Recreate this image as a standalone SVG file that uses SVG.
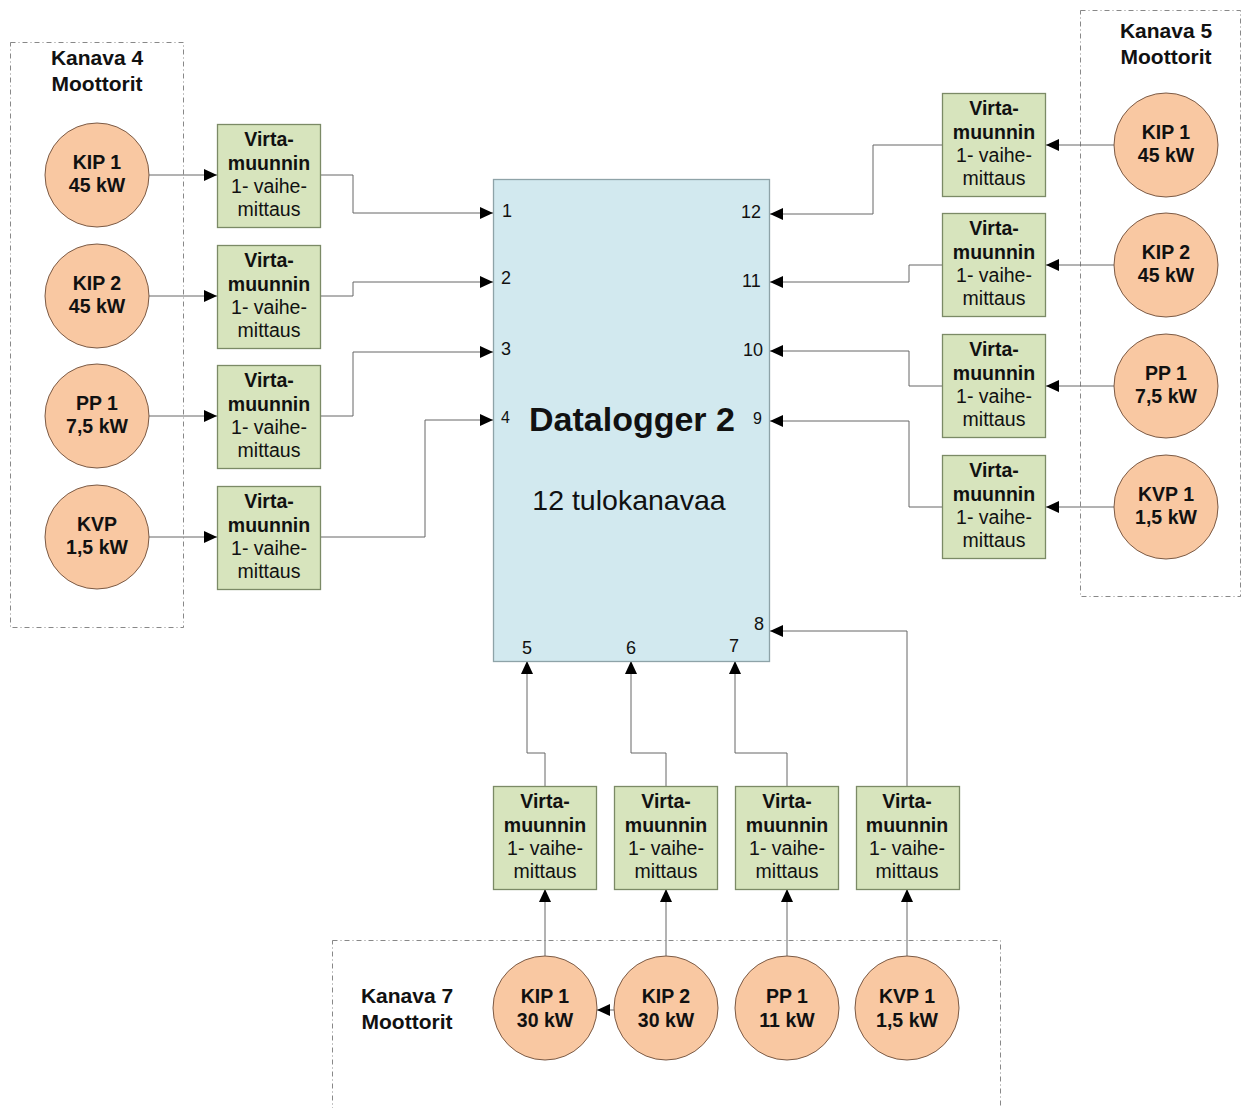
<svg xmlns="http://www.w3.org/2000/svg" width="1243" height="1108" viewBox="0 0 1243 1108">
<style>
text{font-family:"Liberation Sans",Arial,sans-serif;fill:#111;text-anchor:middle}
.grp{fill:none;stroke:#888;stroke-width:1;stroke-dasharray:5,3,1,3}
.mot{fill:#f9c8a2;stroke:#7b5a45;stroke-width:1}
.box{fill:#d7e4bd;stroke:#7b8a66;stroke-width:1.3}
.dl{fill:#d2e9ef;stroke:#8ea3a8;stroke-width:1.3}
.t{font-size:21px;font-weight:bold}
.b{font-size:19.5px;font-weight:bold}
.n{font-size:19.5px}
.p{font-size:18px;text-anchor:start}
.c{fill:none;stroke:#666;stroke-width:1}
</style>
<defs>
<marker id="ah" markerUnits="userSpaceOnUse" markerWidth="14" markerHeight="13" refX="13" refY="6" orient="auto">
<path d="M0,0 L13,6 L0,12 z" fill="#000"/>
</marker>
</defs>
<rect width="1243" height="1108" fill="#fff"/>

<g id="group-kanava4">
<rect class="grp" x="10.5" y="42.5" width="173" height="585"/>
<text class="t" x="97" y="65">Kanava 4</text>
<text class="t" x="97" y="91">Moottorit</text>
</g>
<g id="group-kanava5">
<rect class="grp" x="1080.5" y="10.5" width="160" height="586"/>
<text class="t" x="1166" y="38">Kanava 5</text>
<text class="t" x="1166" y="64">Moottorit</text>
</g>
<g id="group-kanava7">
<rect class="grp" x="332.5" y="940.5" width="668" height="180"/>
<text class="t" x="407" y="1003">Kanava 7</text>
<text class="t" x="407" y="1029">Moottorit</text>
</g>

<g id="connectors">
<path class="c" d="M149,175 H217" marker-end="url(#ah)"/>
<path class="c" d="M149,296 H217" marker-end="url(#ah)"/>
<path class="c" d="M149,416 H217" marker-end="url(#ah)"/>
<path class="c" d="M149,537 H217" marker-end="url(#ah)"/>
<path class="c" d="M321,175 H353 V213 H493" marker-end="url(#ah)"/>
<path class="c" d="M321,296 H353 V282 H493" marker-end="url(#ah)"/>
<path class="c" d="M321,416 H353 V352 H493" marker-end="url(#ah)"/>
<path class="c" d="M321,537 H425 V420 H493" marker-end="url(#ah)"/>
<path class="c" d="M1114,145 H1046" marker-end="url(#ah)"/>
<path class="c" d="M1114,265 H1046" marker-end="url(#ah)"/>
<path class="c" d="M1114,386 H1046" marker-end="url(#ah)"/>
<path class="c" d="M1114,507 H1046" marker-end="url(#ah)"/>
<path class="c" d="M942,145 H873 V214 H770" marker-end="url(#ah)"/>
<path class="c" d="M942,265 H909 V282 H770" marker-end="url(#ah)"/>
<path class="c" d="M942,386 H909 V351 H770" marker-end="url(#ah)"/>
<path class="c" d="M942,507 H909 V421 H770" marker-end="url(#ah)"/>
<path class="c" d="M545,786 V753 H527 V661" marker-end="url(#ah)"/>
<path class="c" d="M666,786 V753 H631 V661" marker-end="url(#ah)"/>
<path class="c" d="M787,786 V753 H735 V661" marker-end="url(#ah)"/>
<path class="c" d="M907,786 V631 H770" marker-end="url(#ah)"/>
<path class="c" d="M545,956 V889" marker-end="url(#ah)"/>
<path class="c" d="M666,956 V889" marker-end="url(#ah)"/>
<path class="c" d="M787,956 V889" marker-end="url(#ah)"/>
<path class="c" d="M907,956 V889" marker-end="url(#ah)"/>
<path class="c" d="M614,1010 H597" marker-end="url(#ah)"/>
</g>

<g id="datalogger">
<rect class="dl" x="493.5" y="179.5" width="276" height="482"/>
<text x="632" y="431" style="font-size:34px;font-weight:bold">Datalogger 2</text>
<text x="629" y="510" style="font-size:28.5px">12 tulokanavaa</text>
<text class="p" x="502" y="217">1</text>
<text class="p" x="501" y="284">2</text>
<text class="p" x="501" y="355">3</text>
<text class="p" x="501" y="423" style="font-size:16px">4</text>
<text class="p" x="741" y="218">12</text>
<text class="p" x="742" y="287">11</text>
<text class="p" x="743" y="356">10</text>
<text class="p" x="753" y="424" style="font-size:16px">9</text>
<text class="p" x="522" y="654">5</text>
<text class="p" x="626" y="654">6</text>
<text class="p" x="729" y="652">7</text>
<text class="p" x="754" y="630">8</text>
</g>

<g id="m4-kip1"><circle class="mot" cx="97" cy="175" r="52"/><text class="b" x="97" y="169">KIP 1</text><text class="b" x="97" y="192">45 kW</text></g>
<g id="m4-kip2"><circle class="mot" cx="97" cy="296" r="52"/><text class="b" x="97" y="290">KIP 2</text><text class="b" x="97" y="313">45 kW</text></g>
<g id="m4-pp1"><circle class="mot" cx="97" cy="416" r="52"/><text class="b" x="97" y="410">PP 1</text><text class="b" x="97" y="433">7,5 kW</text></g>
<g id="m4-kvp"><circle class="mot" cx="97" cy="537" r="52"/><text class="b" x="97" y="531">KVP</text><text class="b" x="97" y="554">1,5 kW</text></g>

<g id="m5-kip1"><circle class="mot" cx="1166" cy="145" r="52"/><text class="b" x="1166" y="139">KIP 1</text><text class="b" x="1166" y="162">45 kW</text></g>
<g id="m5-kip2"><circle class="mot" cx="1166" cy="265" r="52"/><text class="b" x="1166" y="259">KIP 2</text><text class="b" x="1166" y="282">45 kW</text></g>
<g id="m5-pp1"><circle class="mot" cx="1166" cy="386" r="52"/><text class="b" x="1166" y="380">PP 1</text><text class="b" x="1166" y="403">7,5 kW</text></g>
<g id="m5-kvp1"><circle class="mot" cx="1166" cy="507" r="52"/><text class="b" x="1166" y="501">KVP 1</text><text class="b" x="1166" y="524">1,5 kW</text></g>

<g id="m7-kip1"><circle class="mot" cx="545" cy="1008" r="52"/><text class="b" x="545" y="1003">KIP 1</text><text class="b" x="545" y="1027">30 kW</text></g>
<g id="m7-kip2"><circle class="mot" cx="666" cy="1008" r="52"/><text class="b" x="666" y="1003">KIP 2</text><text class="b" x="666" y="1027">30 kW</text></g>
<g id="m7-pp1"><circle class="mot" cx="787" cy="1008" r="52"/><text class="b" x="787" y="1003">PP 1</text><text class="b" x="787" y="1027">11 kW</text></g>
<g id="m7-kvp1"><circle class="mot" cx="907" cy="1008" r="52"/><text class="b" x="907" y="1003">KVP 1</text><text class="b" x="907" y="1027">1,5 kW</text></g>

<g id="vm-l1"><rect class="box" x="217.5" y="124.5" width="103" height="103"/><text class="b" x="269" y="146">Virta-</text><text class="b" x="269" y="170">muunnin</text><text class="n" x="269" y="193">1- vaihe-</text><text class="n" x="269" y="216">mittaus</text></g>
<g id="vm-l2"><rect class="box" x="217.5" y="245.5" width="103" height="103"/><text class="b" x="269" y="267">Virta-</text><text class="b" x="269" y="291">muunnin</text><text class="n" x="269" y="314">1- vaihe-</text><text class="n" x="269" y="337">mittaus</text></g>
<g id="vm-l3"><rect class="box" x="217.5" y="365.5" width="103" height="103"/><text class="b" x="269" y="387">Virta-</text><text class="b" x="269" y="411">muunnin</text><text class="n" x="269" y="434">1- vaihe-</text><text class="n" x="269" y="457">mittaus</text></g>
<g id="vm-l4"><rect class="box" x="217.5" y="486.5" width="103" height="103"/><text class="b" x="269" y="508">Virta-</text><text class="b" x="269" y="532">muunnin</text><text class="n" x="269" y="555">1- vaihe-</text><text class="n" x="269" y="578">mittaus</text></g>

<g id="vm-r1"><rect class="box" x="942.5" y="93.5" width="103" height="103"/><text class="b" x="994" y="115">Virta-</text><text class="b" x="994" y="139">muunnin</text><text class="n" x="994" y="162">1- vaihe-</text><text class="n" x="994" y="185">mittaus</text></g>
<g id="vm-r2"><rect class="box" x="942.5" y="213.5" width="103" height="103"/><text class="b" x="994" y="235">Virta-</text><text class="b" x="994" y="259">muunnin</text><text class="n" x="994" y="282">1- vaihe-</text><text class="n" x="994" y="305">mittaus</text></g>
<g id="vm-r3"><rect class="box" x="942.5" y="334.5" width="103" height="103"/><text class="b" x="994" y="356">Virta-</text><text class="b" x="994" y="380">muunnin</text><text class="n" x="994" y="403">1- vaihe-</text><text class="n" x="994" y="426">mittaus</text></g>
<g id="vm-r4"><rect class="box" x="942.5" y="455.5" width="103" height="103"/><text class="b" x="994" y="477">Virta-</text><text class="b" x="994" y="501">muunnin</text><text class="n" x="994" y="524">1- vaihe-</text><text class="n" x="994" y="547">mittaus</text></g>

<g id="vm-b1"><rect class="box" x="493.5" y="786.5" width="103" height="103"/><text class="b" x="545" y="808">Virta-</text><text class="b" x="545" y="832">muunnin</text><text class="n" x="545" y="855">1- vaihe-</text><text class="n" x="545" y="878">mittaus</text></g>
<g id="vm-b2"><rect class="box" x="614.5" y="786.5" width="103" height="103"/><text class="b" x="666" y="808">Virta-</text><text class="b" x="666" y="832">muunnin</text><text class="n" x="666" y="855">1- vaihe-</text><text class="n" x="666" y="878">mittaus</text></g>
<g id="vm-b3"><rect class="box" x="735.5" y="786.5" width="103" height="103"/><text class="b" x="787" y="808">Virta-</text><text class="b" x="787" y="832">muunnin</text><text class="n" x="787" y="855">1- vaihe-</text><text class="n" x="787" y="878">mittaus</text></g>
<g id="vm-b4"><rect class="box" x="856.5" y="786.5" width="103" height="103"/><text class="b" x="907" y="808">Virta-</text><text class="b" x="907" y="832">muunnin</text><text class="n" x="907" y="855">1- vaihe-</text><text class="n" x="907" y="878">mittaus</text></g>
</svg>
